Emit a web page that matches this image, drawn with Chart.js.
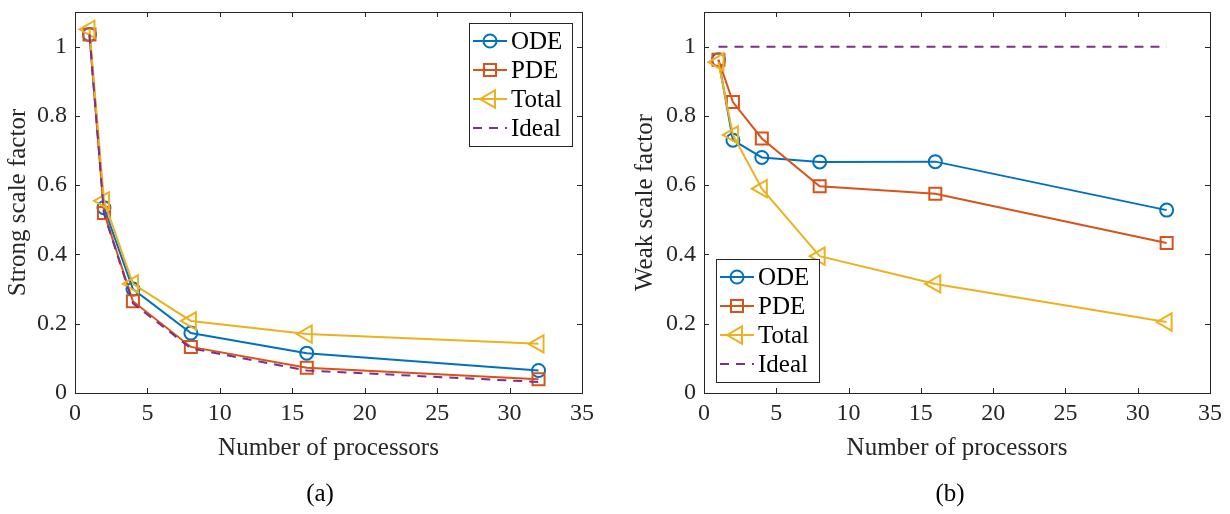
<!DOCTYPE html>
<html>
<head>
<meta charset="utf-8">
<script src="https://cdn.jsdelivr.net/npm/chart.js@4.4.0/dist/chart.umd.min.js"></script>
<style>
  body { margin: 0; background: #fff; }
  #wrap { position: relative; width: 1230px; height: 514px; }
  .pane { position: absolute; top: 0; width: 615px; height: 514px; }
  .cap { position: absolute; top: 478px; width: 200px; text-align: center;
         font: 25px "Liberation Serif", serif; color: #000; line-height: 30px; }
</style>
</head>
<body>
<div id="wrap">
  <div class="pane" style="left:0"><canvas id="strong" width="615" height="514"></canvas></div>
  <div class="pane" style="left:615px"><canvas id="weak" width="615" height="514"></canvas></div>
  <div class="cap" style="left:220px">(a)</div>
  <div class="cap" style="left:850px">(b)</div>
</div>
<script>
// processors
var procs = [1, 2, 4, 8, 16, 32];

// (a) strong scaling
var strongODE   = [1.035, 0.535, 0.300, 0.173, 0.115, 0.065];
var strongPDE   = [1.035, 0.520, 0.265, 0.133, 0.073, 0.040];
var strongTotal = [1.050, 0.555, 0.315, 0.208, 0.170, 0.142];
var strongIdeal = [1.035, 0.518, 0.259, 0.129, 0.065, 0.032];

// (b) weak scaling
var weakODE   = [0.962, 0.730, 0.680, 0.667, 0.668, 0.528];
var weakPDE   = [0.962, 0.840, 0.735, 0.597, 0.575, 0.433];
var weakTotal = [0.955, 0.745, 0.590, 0.395, 0.315, 0.205];
var weakIdeal = [1, 1, 1, 1, 1, 1];

var xTicks = [0, 5, 10, 15, 20, 25, 30, 35];
var yTicks = [0, 0.2, 0.4, 0.6, 0.8, 1];
var seriesNames = ["ODE", "PDE", "Total", "Ideal"];

var blue = "#0072BD", orange = "#D95319", yellow = "#EDB120", purple = "#7E2F8E";
var axisCol = "#262626";
var serif = "'Liberation Serif', 'Times New Roman', serif";

function pts(ys) {
  return procs.map(function(x, i){ return {x: x, y: ys[i]}; });
}

var styles = [
  {color: blue,   pointStyle: "circle",   radius: 6.5, rotation: 0},
  {color: orange, pointStyle: "rect",     radius: 8.5, rotation: 0},
  {color: yellow, pointStyle: "triangle", radius: 10,  rotation: -90},
  {color: purple, pointStyle: false,      radius: 0,   rotation: 0, dash: [9, 7]}
];

function makeSets(arrs) {
  return arrs.map(function(a, i){
    var s = styles[i];
    return {
      label: seriesNames[i],
      data: pts(a),
      showLine: true,
      borderColor: s.color,
      backgroundColor: "rgba(0,0,0,0)",
      borderWidth: 2,
      borderDash: s.dash || [],
      pointStyle: s.pointStyle,
      pointRadius: s.radius,
      pointRotation: s.rotation,
      pointBorderWidth: 2,
      pointBorderColor: s.color,
      pointBackgroundColor: "rgba(0,0,0,0)",
      clip: false,
      order: 3 - i
    };
  });
}

// matlab-ish box, inward ticks and a legend drawn inside the axes
var matBox = {
  id: "matBox",
  beforeDatasetsDraw: function(chart) {
    var c = chart.ctx, a = chart.chartArea;
    var xs = chart.scales.x, ys = chart.scales.y, tl = 5;
    c.save();
    c.strokeStyle = axisCol;
    c.lineWidth = 1;
    c.strokeRect(Math.round(a.left) + 0.5, Math.round(a.top) + 0.5,
                 Math.round(a.right - a.left), Math.round(a.bottom - a.top));
    c.beginPath();
    xTicks.forEach(function(v){
      var px = Math.round(xs.getPixelForValue(v)) + 0.5;
      c.moveTo(px, a.bottom); c.lineTo(px, a.bottom - tl);
      c.moveTo(px, a.top); c.lineTo(px, a.top + tl);
    });
    yTicks.forEach(function(v){
      var py = Math.round(ys.getPixelForValue(v)) + 0.5;
      c.moveTo(a.left, py); c.lineTo(a.left + tl, py);
      c.moveTo(a.right, py); c.lineTo(a.right - tl, py);
    });
    c.stroke();
    c.restore();
  },
  afterDatasetsDraw: function(chart, args, opts) {
    var c = chart.ctx, a = chart.chartArea;
    var w = 103, h = 123, rowH = 29;
    var bx, by;
    if (opts.corner === "tr") { bx = a.right - 10 - w; by = a.top + 11; }
    else { bx = a.left + 12; by = a.bottom - 11 - h; }
    c.save();
    c.fillStyle = "#fff";
    c.fillRect(bx, by, w, h);
    c.strokeStyle = axisCol;
    c.lineWidth = 1;
    c.strokeRect(Math.round(bx) + 0.5, Math.round(by) + 0.5, w, h);
    c.font = "25px " + serif;
    c.textBaseline = "middle";
    seriesNames.forEach(function(name, i){
      var s = styles[i];
      var y = by + 18 + i * rowH;
      var x0 = bx + 4, x1 = bx + 38;
      c.strokeStyle = s.color;
      c.lineWidth = 2;
      c.setLineDash(s.dash || []);
      c.beginPath(); c.moveTo(x0, y); c.lineTo(x1, y); c.stroke();
      c.setLineDash([]);
      if (s.pointStyle) {
        c.fillStyle = "rgba(0,0,0,0)";
        Chart.helpers.drawPoint(c, {pointStyle: s.pointStyle, radius: s.radius,
          rotation: s.rotation, borderWidth: 2}, (x0 + x1) / 2, y);
      }
      c.fillStyle = "#000";
      c.fillText(name, x1 + 4, y + 1);
    });
    c.restore();
  }
};

function makeChart(id, arrs, yTitle, yWidth, titlePad, padRight, corner) {
  return new Chart(document.getElementById(id), {
    type: "scatter",
    data: { datasets: makeSets(arrs) },
    plugins: [matBox],
    options: {
      responsive: false,
      animation: false,
      layout: { padding: { top: 7, right: padRight, bottom: 44, left: 0 } },
      plugins: {
        legend: { display: false },
        tooltip: { enabled: false },
        matBox: { corner: corner }
      },
      scales: {
        x: {
          type: "linear", min: 0, max: 35,
          grid: { display: false, drawTicks: false },
          border: { display: false },
          afterBuildTicks: function(s){ s.ticks = xTicks.map(function(v){ return {value: v}; }); },
          afterFit: function(s){ s.height = 77; s.paddingLeft = 0; s.paddingRight = 0; },
          ticks: { color: axisCol, padding: 6, maxRotation: 0, font: { family: serif, size: 24 } },
          title: { display: true, text: "Number of processors", color: axisCol,
                   padding: { top: 0, bottom: 7 }, font: { family: serif, size: 25 } }
        },
        y: {
          min: 0, max: 1.1,
          grid: { display: false, drawTicks: false },
          border: { display: false },
          afterBuildTicks: function(s){ s.ticks = yTicks.map(function(v){ return {value: v}; }); },
          afterFit: function(s){ s.width = yWidth; s.paddingTop = 0; s.paddingBottom = 0; },
          ticks: { color: axisCol, padding: 8, font: { family: serif, size: 24 },
                   callback: function(v){ return v === 0 || v === 1 ? String(v) : v.toFixed(1); } },
          title: { display: true, text: yTitle, color: axisCol,
                   padding: { top: titlePad, bottom: 0 }, font: { family: serif, size: 25 } }
        }
      }
    }
  });
}

makeChart("strong", [strongODE, strongPDE, strongTotal, strongIdeal], "Strong scale factor", 75, 3, 33, "tr");
makeChart("weak", [weakODE, weakPDE, weakTotal, weakIdeal], "Weak scale factor", 89, 15, 20, "bl");
</script>
</body>
</html>
